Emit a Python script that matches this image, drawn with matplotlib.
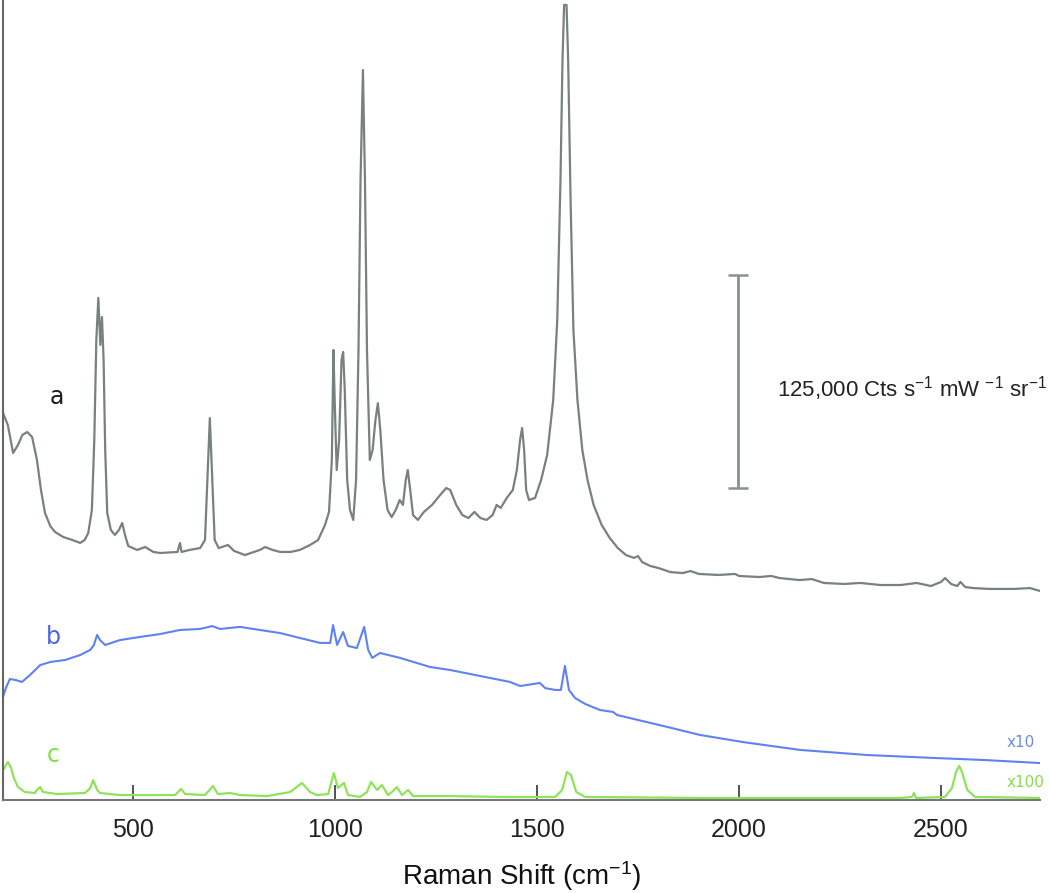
import matplotlib.pyplot as plt

plt.rcParams["font.family"] = ["Liberation Sans", "DejaVu Sans"]
plt.rcParams["mathtext.default"] = "regular"

# trace a (grey), kcts with offset
wn_a = [178, 190, 203, 215, 226, 238, 250, 262, 272, 282, 295, 307, 327, 350, 369, 380, 389, 398, 404,
        409, 414, 419, 423, 427, 431, 436, 445, 455, 465, 473, 480, 488, 510, 530, 550, 567, 610, 616,
        620, 640, 666, 678, 685, 690, 695, 702, 712, 735, 750, 777, 814, 827, 845, 864, 890, 913, 938,
        958, 975, 985, 992, 996, 999, 1004, 1010, 1016, 1020, 1024, 1030, 1037, 1045, 1052, 1058, 1063,
        1069, 1074, 1079, 1086, 1093, 1100, 1106, 1112, 1120, 1130, 1140, 1150, 1160, 1168, 1175, 1180,
        1186, 1193, 1205, 1220, 1240, 1260, 1275, 1285, 1300, 1315, 1330, 1345, 1360, 1375, 1390, 1400,
        1410, 1425, 1440, 1450, 1458, 1463, 1468, 1473, 1480, 1495, 1510, 1525, 1540, 1550, 1558, 1563,
        1567, 1573, 1577, 1583, 1590, 1600, 1612, 1625, 1640, 1660, 1680, 1700, 1720, 1740, 1750, 1760,
        1780, 1800, 1830, 1860, 1880, 1900, 1950, 1990, 2000, 2050, 2080, 2100, 2150, 2180, 2210, 2260,
        2300, 2350, 2400, 2440, 2475, 2500, 2510, 2525, 2540, 2548, 2560, 2580, 2620, 2680, 2720, 2745]
int_a = [227.2, 220.1, 203.7, 208.4, 214.3, 216.0, 213.1, 199.6, 182.0, 168.5, 160.8, 157.3, 154.4,
         152.6, 150.9, 152.6, 156.7, 170.2, 211.3, 270.0, 294.7, 267.1, 283.5, 258.3, 205.5, 168.5,
         158.5, 155.6, 158.5, 162.6, 155.6, 149.1, 146.8, 148.5, 145.6, 145.0, 145.6, 150.9, 145.6,
         146.8, 147.9, 152.6, 193.7, 224.2, 193.7, 152.6, 147.9, 149.7, 146.2, 143.8, 146.8, 148.5,
         146.8, 145.6, 145.6, 146.8, 149.7, 152.6, 161.4, 169.1, 199.6, 264.2, 234.8, 193.7, 211.3,
         258.3, 263.0, 240.7, 187.8, 170.2, 164.4, 187.8, 264.2, 363.9, 428.5, 363.9, 264.2, 199.6,
         205.5, 223.1, 233.0, 217.2, 187.8, 170.2, 166.1, 170.2, 176.1, 173.2, 187.8, 193.7, 182.0,
         167.3, 164.4, 169.1, 173.2, 179.0, 183.1, 182.0, 173.2, 167.3, 165.5, 169.1, 165.5, 164.4,
         167.3, 173.2, 171.4, 177.3, 182.0, 193.7, 211.3, 218.4, 205.5, 182.0, 176.1, 177.3, 187.8,
         202.5, 234.8, 281.8, 363.9, 434.4, 466.7, 466.7, 434.4, 352.2, 275.9, 234.8, 205.5, 187.8,
         173.2, 161.4, 153.8, 147.9, 143.8, 142.1, 143.2, 139.7, 137.4, 136.2, 133.8, 133.2, 134.4,
         132.7, 132.1, 132.7, 131.5, 130.9, 131.5, 130.3, 129.1, 129.7, 127.4, 126.8, 127.4, 126.2,
         126.2, 127.4, 125.6, 128.0, 130.3, 126.8, 125.6, 128.0, 125.0, 124.4, 123.9, 123.9, 124.4, 122.7]

# trace b (blue, x10)
wn_b = [178, 185, 195, 210, 225, 245, 270, 295, 332, 369, 394, 403, 411, 418, 431, 468, 517, 567, 616,
        666, 696, 715, 765, 814, 864, 913, 963, 988, 995, 1005, 1020, 1032, 1054, 1072, 1082, 1092,
        1111, 1161, 1235, 1285, 1359, 1433, 1458, 1507, 1520, 1545, 1559, 1569, 1579, 1594, 1619, 1656,
        1688, 1698, 1822, 1903, 2010, 2151, 2317, 2480, 2604, 2745]
int_b = [60.5, 65.7, 71.0, 70.4, 69.3, 73.4, 79.2, 81.0, 82.2, 85.1, 88.1, 91.0, 96.9, 93.9, 91.0, 93.9,
         95.7, 97.4, 99.8, 100.4, 102.1, 100.4, 101.6, 99.8, 98.0, 95.1, 92.2, 92.2, 102.7, 91.0, 98.6,
         90.4, 89.2, 101.6, 88.1, 83.4, 86.3, 83.4, 78.1, 76.3, 72.8, 69.3, 66.9, 68.7, 65.7, 64.6, 64.6,
         78.7, 64.6, 59.9, 56.4, 52.8, 51.7, 49.9, 42.9, 38.2, 34.0, 29.4, 26.4, 24.7, 23.5, 21.7]

# trace c (green, x100)
wn_c = [178, 190, 198, 205, 215, 232, 257, 262, 270, 277, 312, 381, 394, 401, 411, 418, 468, 542, 604,
        619, 629, 678, 698, 710, 740, 765, 832, 889, 918, 938, 955, 983, 997, 1007, 1022, 1032, 1062,
        1079, 1089, 1104, 1116, 1131, 1141, 1153, 1166, 1181, 1193, 1285, 1408, 1545, 1562, 1574, 1584,
        1597, 1619, 1903, 2399, 2428, 2433, 2438, 2510, 2527, 2537, 2545, 2552, 2565, 2584, 2745]
int_c = [17.6, 22.3, 18.8, 12.9, 7.6, 4.7, 4.1, 5.9, 7.6, 4.7, 3.5, 4.1, 7.0, 11.7, 5.9, 4.1, 2.9, 2.9,
         2.9, 6.5, 3.5, 2.9, 8.2, 3.5, 4.1, 2.9, 2.3, 4.7, 10.0, 4.7, 2.9, 3.5, 15.8, 7.0, 10.0, 2.9, 1.8,
         4.7, 10.6, 5.9, 8.8, 2.9, 4.7, 7.6, 2.9, 5.9, 2.3, 2.3, 1.8, 1.8, 5.9, 16.4, 14.7, 4.7, 1.8, 1.2,
         1.2, 1.8, 4.1, 1.2, 1.8, 7.0, 16.4, 20.0, 16.4, 5.9, 1.8, 1.2]

xticks = [500, 1000, 1500, 2000, 2500]
bar_center = 245.7
bar_half = 62.5

fig = plt.figure(figsize=(10.5, 8.93), dpi=100)
ax = fig.add_axes([3 / 1050, 93 / 893, 1037 / 1050, 800 / 893])

ax.plot(wn_a, int_a, color="#78817f", linewidth=1.6)
ax.plot(wn_b, int_b, color="#5f82f2", linewidth=1.5)
ax.plot(wn_c, int_c, color="#8fe35a", linewidth=1.6)

ax.text(312, 236.6, "a", fontsize=17, family="DejaVu Sans", color="#1e1e1e", ha="center", va="center")
ax.text(302, 95.7, "b", fontsize=17, family="DejaVu Sans", color="#4b63ef", ha="center", va="center")
ax.text(302, 26.4, "c", fontsize=17, family="DejaVu Sans", color="#7fe040", ha="center", va="center")
ax.text(2663, 34.0, "x10", fontsize=11, family="DejaVu Sans", color="#6a8af0", ha="left", va="center")
ax.text(2663, 10.0, "x100", fontsize=11, family="DejaVu Sans", color="#86de4c", ha="left", va="center")

# scale bar
ax.errorbar([1998], [bar_center], yerr=[bar_half], color="#8a908f", linewidth=2,
            capsize=7.5, capthick=1.8)
ax.text(2094, 241.8, "125,000 Cts s$^{-1}$ mW $^{-1}$ sr$^{-1}$", fontsize=16,
        color="#222222", ha="left", va="center")

ax.set_xlim(178, 2745)
ax.set_ylim(0, 469.6)
ax.set_xticks(xticks)
ax.set_yticks([])
ax.tick_params(axis="x", direction="in", length=11, width=1.2, color="#333333",
               labelsize=18, pad=13, labelcolor="#222222")
for side in ["top", "right"]:
    ax.spines[side].set_visible(False)
ax.spines["left"].set_color("#666666")
ax.spines["left"].set_linewidth(1.5)
ax.spines["bottom"].set_color("#777777")
ax.spines["bottom"].set_linewidth(1.5)
ax.set_xlabel("Raman Shift (cm$^{-1}$)", fontsize=20, color="#111111", labelpad=12)

fig.savefig("out.png", dpi=100)
